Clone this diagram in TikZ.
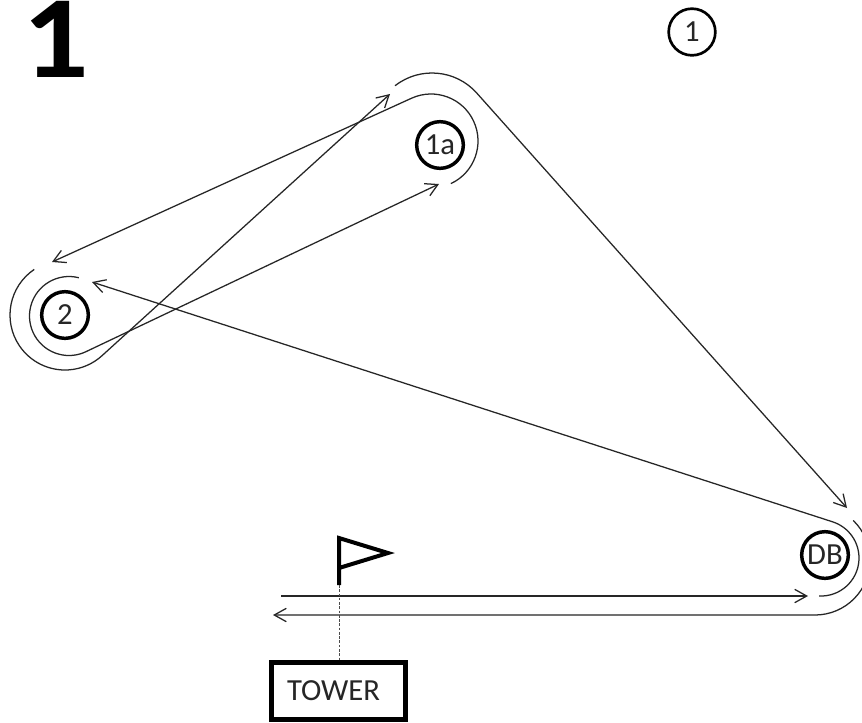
\documentclass[tikz,border=0pt]{standalone}
\usepackage{fontspec}
\usepackage{graphicx}
\setmainfont{Carlito}
\usetikzlibrary{arrows.meta,calc}
\tikzset{
  station/.style={circle,draw=black,line width=2.6pt,minimum size=35pt,inner sep=0pt,font=\fontsize{23pt}{25pt}\selectfont,text=black!85},
  track/.style={draw=black!85,line width=0.95pt},
  tipped/.style={track,-{Straight Barb[length=9pt,width=10pt,line width=0.95pt]}},
}
\begin{document}
\begin{tikzpicture}[x=0.75pt,y=-0.75pt]
\useasboundingbox (0,0) rectangle (862,722);
\fill[white] (0,0) rectangle (862,722);
% stations
\node[font=\fontsize{88pt}{88pt}\bfseries\selectfont,anchor=base,inner sep=0pt] (title) at (56,77) {\scalebox{1.12}[1]{1}};
\node[station,line width=2pt] (one) at (692,32) {1};
\node[station] (onea) at (440,145) {1a};
\node[station] (two) at (65,315) {2};
\node[station] (db) at (825,555) {DB};
% free ends
\coordinate (toA) at (439,184);
\coordinate (toB) at (390,94);
\coordinate (toC) at (52,262);
\coordinate (toD) at (847,508);
\coordinate (toE) at (92,282);
\coordinate (toF) at (273,615);
\coordinate (toG) at (808,596);
\coordinate (startG) at (281,596);
% arc centres
\coordinate (cA) at (69,316);
\coordinate (cB) at (65,315);
\coordinate (cC) at (431,141);
\coordinate (cD) at (432,133);
\coordinate (cE) at (821,558);
\coordinate (cF) at (815,560);
% tracks
\draw[tipped] ($(cA)+(-75.6:39.5)$) arc[start angle=-75.6,end angle=-294.7,radius=39.5] -- (toA);
\draw[tipped] ($(cB)+(-124:55)$) arc[start angle=-124,end angle=-312.4,radius=55] -- (toB);
\draw[tipped] ($(cC)+(65:47)$) arc[start angle=65,end angle=-114,radius=47] -- (toC);
\draw[tipped] ($(cD)+(-128:60)$) arc[start angle=-128,end angle=-41.7,radius=60] -- (toD);
\draw[tipped] ($(cE)+(93:38)$) arc[start angle=93,end angle=-71.9,radius=38] -- (toE);
\draw[tipped] ($(cF)+(-46:55)$) arc[start angle=-46,end angle=90,radius=55] -- (toF);
\draw[tipped] (startG) -- (toG);
% tower and flag
\node[draw=black,line width=4.2pt,minimum width=100.5pt,minimum height=43pt,inner sep=0pt,text=black!85,font=\fontsize{23pt}{25pt}\selectfont] (tower) at (338.5,691) {\hspace{-7.5pt}TOWER};
\coordinate (flagtop) at (339,538);
\coordinate (flagtip) at (388,553);
\coordinate (flagmid) at (339,568);
\coordinate (flagfoot) at (339,585);
\draw[black,line width=3pt,line join=miter] (flagfoot) -- (flagtop) -- (flagtip) -- (flagmid);
\draw[black!70,line width=0.7pt,dash pattern=on 2pt off 1.2pt] (flagfoot) -- (tower.north -| flagfoot);
\end{tikzpicture}
\end{document}
